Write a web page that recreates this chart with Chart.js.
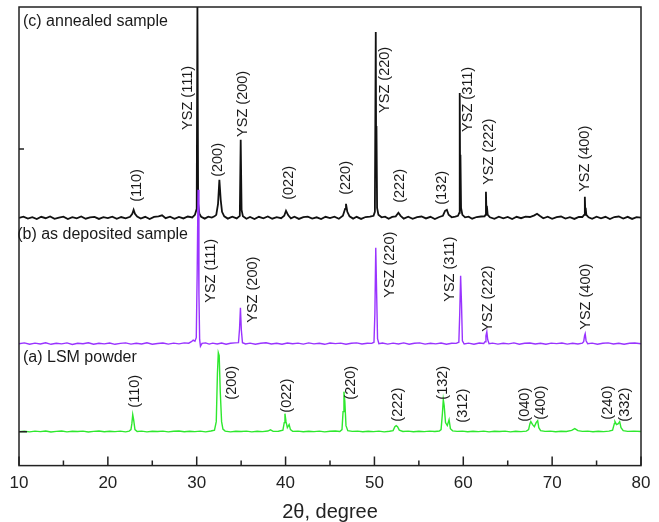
<!DOCTYPE html>
<html>
<head>
<meta charset="utf-8">
<script src="https://cdn.jsdelivr.net/npm/chart.js@4.4.1/dist/chart.umd.min.js"></script>
<style>
  html, body { margin: 0; padding: 0; background: #fff; }
  #wrap { width: 659px; height: 522px; }
</style>
</head>
<body>
<div id="wrap"><canvas id="xrd"></canvas></div>
<script>
// XRD patterns, [2theta, counts above the pattern's own baseline]
const annealed = [
  [10.0, 0], [10.5, 1.2], [11.0, -0.8], [11.5, 0.6], [12.0, -1.2], [12.5, 1.0], [13.0, -0.4], [13.5, 1.4],
  [14.0, -1.0], [14.5, 0.3], [15.0, 1.1], [15.5, -1.3], [16.0, 0.7], [16.5, -0.5], [17.0, 1.3], [17.5, -0.9],
  [18.0, 0.4], [18.5, 1.0], [19.0, -1.1], [19.5, 0.6], [20.0, -0.3], [20.5, 1.2], [21.0, -1.0], [21.5, 0.8],
  [22.0, -0.6], [22.5, 1.0], [22.75, 4], [22.9, 8], [23.05, 4], [23.3, 1.2], [23.7, -0.8], [24.2, 1.0],
  [24.7, -1.2], [25.2, 0.9], [25.7, 1.5], [26.1, 2.5], [26.5, -0.4], [27.0, 1.1], [27.5, -1.0], [28.0, 0.9],
  [28.5, -0.6], [29.0, 1.3], [29.5, 0.4], [29.8, 3], [30.0, 9], [30.08, 215], [30.16, 14], [30.3, 4],
  [30.5, 1.0], [30.9, -0.8], [31.3, 1.2], [31.7, 0.2], [32.0, 1.5], [32.2, 3], [32.4, 14], [32.55, 38],
  [32.7, 18], [32.85, 6], [33.1, 1.5], [33.5, -0.8], [34.0, 1.2], [34.5, -0.6], [34.85, 2], [34.95, 78],
  [35.05, 8], [35.2, 1.5], [35.6, -1.0], [36.0, 0.8], [36.5, -1.2], [37.0, 1.0], [37.5, -0.5], [38.0, 1.3],
  [38.5, -0.9], [39.0, 0.6], [39.5, -0.4], [39.85, 2], [40.05, 7], [40.3, 2.5], [40.6, -0.6], [41.0, 1.1],
  [41.5, -1.1], [42.0, 0.7], [42.5, 1.2], [43.0, -0.8], [43.5, 0.5], [44.0, -1.2], [44.5, 1.0], [45.0, -0.3],
  [45.5, 1.2], [46.0, -0.9], [46.45, 2], [46.7, 9], [46.8, 14], [46.95, 6], [47.2, 1.5], [47.6, -0.8],
  [48.0, 1.0], [48.5, -1.1], [49.0, 0.8], [49.5, 1.2], [49.9, 2], [50.05, 6], [50.15, 186], [50.2, 45],
  [50.23, 92], [50.3, 10], [50.45, 3], [50.8, 0.5], [51.2, 1.2], [51.6, -0.9], [52.0, 0.9], [52.4, 1.5],
  [52.7, 5], [52.95, 2], [53.3, -0.8], [53.8, 1.1], [54.3, -1.0], [54.8, 0.7], [55.3, 1.3], [55.8, -0.6],
  [56.3, 1.0], [56.8, -1.2], [57.3, 0.8], [57.7, 2], [57.95, 7], [58.15, 8], [58.35, 3], [58.7, 0.5],
  [59.1, 1.2], [59.4, 2], [59.55, 5], [59.6, 125], [59.65, 30], [59.68, 63], [59.75, 10], [59.9, 3],
  [60.2, 0.5], [60.6, 1.2], [61.0, -0.9], [61.5, 0.8], [62.0, 1.3], [62.4, 1.5], [62.5, 3], [62.55, 26],
  [62.6, 8], [62.65, 12], [62.75, 3], [63.0, 0.5], [63.5, -1.0], [64.0, 1.1], [64.5, -0.6], [65.0, 0.9],
  [65.5, -1.2], [66.0, 1.0], [66.5, -0.4], [67.0, 1.2], [67.5, 0.8], [68.0, 2.5], [68.3, 4], [68.6, 2],
  [69.0, -0.5], [69.5, 1.1], [70.0, -1.0], [70.5, 0.7], [71.0, 1.3], [71.5, -0.8], [72.0, 0.6], [72.5, -1.1],
  [73.0, 1.0], [73.4, 0.8], [73.6, 3], [73.68, 21], [73.73, 6], [73.77, 10], [73.85, 3], [74.1, 0.5],
  [74.5, -0.9], [75.0, 1.2], [75.5, -0.5], [76.0, 1.0], [76.5, -1.2], [77.0, 0.8], [77.5, 1.3], [78.0, -0.7],
  [78.5, 1.0], [79.0, -1.1], [79.5, 0.6], [80.0, 0.2]
];

const deposited = [
  [10.0, 0], [10.6, 0.8], [11.2, -0.5], [11.8, 0.6], [12.4, -0.3], [13.0, 0.9], [13.6, -0.6], [14.2, 0.4],
  [14.8, -0.2], [15.4, 0.8], [16.0, -0.7], [16.6, 0.5], [17.2, 0.0], [17.8, 0.9], [18.4, -0.5], [19.0, 0.4],
  [19.6, -0.2], [20.2, 0.7], [20.8, -0.6], [21.4, 0.3], [22.0, 0.8], [22.6, -0.4], [23.2, 0.5], [23.8, -0.3],
  [24.4, 0.9], [25.0, -0.5], [25.6, 0.2], [26.2, 0.7], [26.8, -0.4], [27.4, 0.6], [28.0, -0.2], [28.6, 0.8],
  [29.1, 0.5], [29.4, 2], [29.6, 3.5], [29.8, 2.5], [29.95, 6], [30.05, 70], [30.15, 154], [30.25, 50],
  [30.33, 4], [30.42, -2.5], [30.6, 0.3], [31.0, 0.8], [31.4, -0.4], [31.8, 0.6], [32.3, -0.3], [32.8, 0.7],
  [33.3, -0.5], [33.8, 0.4], [34.3, 0.8], [34.7, 1], [34.82, 15], [34.92, 36], [35.02, 14], [35.15, 1],
  [35.5, -0.3], [36.0, 0.6], [36.6, -0.6], [37.2, 0.4], [37.8, 0.9], [38.4, -0.3], [39.0, 0.5], [39.6, -0.5],
  [40.2, 0.7], [40.8, 0.0], [41.4, 0.6], [42.0, -0.4], [42.6, 0.8], [43.2, -0.2], [43.8, 0.5], [44.4, -0.6],
  [45.0, 0.7], [45.6, 0.1], [46.2, 0.6], [46.8, -0.5], [47.4, 0.4], [48.0, 0.8], [48.6, -0.3], [49.2, 0.5],
  [49.7, 0.3], [49.95, 1.5], [50.05, 30], [50.15, 96], [50.25, 50], [50.35, 5], [50.5, 0], [50.9, 0.7],
  [51.5, -0.4], [52.1, 0.6], [52.7, -0.3], [53.3, 0.8], [53.9, -0.5], [54.5, 0.4], [55.1, 0.8], [55.7, -0.4],
  [56.3, 0.5], [56.9, -0.2], [57.5, 0.7], [58.1, -0.5], [58.7, 0.5], [59.2, 0.3], [59.5, 1.5], [59.6, 30],
  [59.7, 68], [59.8, 40], [59.9, 3], [60.1, -0.3], [60.6, 0.6], [61.2, -0.5], [61.8, 0.7], [62.3, 0.2],
  [62.45, 2], [62.55, 8], [62.65, 12], [62.75, 4], [62.9, 0], [63.3, 0.6], [63.9, -0.4], [64.5, 0.5],
  [65.1, -0.2], [65.7, 0.8], [66.3, -0.5], [66.9, 0.4], [67.5, 0.7], [68.1, -0.3], [68.7, 0.5], [69.3, -0.5],
  [69.9, 0.6], [70.5, 0.1], [71.1, 0.7], [71.7, -0.4], [72.3, 0.5], [72.9, -0.3], [73.4, 0.6], [73.55, 2],
  [73.65, 8], [73.72, 10], [73.82, 3], [74.0, 0], [74.5, 0.6], [75.1, -0.5], [75.7, 0.4], [76.3, 0.8],
  [76.9, -0.3], [77.5, 0.5], [78.1, -0.6], [78.7, 0.4], [79.3, 0.7], [80.0, 0]
];

const powder = [
  [10.0, 0], [10.6, 0.4], [11.2, -0.2], [11.8, 0.5], [12.4, 0.0], [13.0, 0.6], [13.6, -0.3], [14.2, 0.3],
  [14.8, 0.6], [15.4, -0.2], [16.0, 0.4], [16.6, 0.1], [17.2, 0.5], [17.8, -0.3], [18.4, 0.3], [19.0, 0.6],
  [19.6, -0.1], [20.2, 0.4], [20.8, 0.0], [21.4, 0.5], [22.0, -0.2], [22.4, 0.5], [22.6, 2], [22.7, 8],
  [22.8, 17], [22.9, 12], [23.05, 2], [23.3, 0.2], [23.8, 0.5], [24.4, -0.2], [25.0, 0.4], [25.6, 0.1],
  [26.2, 0.5], [26.8, -0.2], [27.4, 0.4], [28.0, 0.6], [28.6, -0.1], [29.2, 0.4], [29.8, 0.0], [30.4, 0.5],
  [31.0, -0.2], [31.6, 0.6], [32.0, 1.5], [32.2, 10], [32.33, 58], [32.43, 79], [32.53, 76], [32.65, 40],
  [32.8, 10], [32.95, 2.5], [33.2, 0.5], [33.8, -0.2], [34.4, 0.4], [35.0, 0.1], [35.6, 0.5], [36.2, -0.2],
  [36.8, 0.4], [37.4, 0.0], [38.0, 0.6], [38.3, 1.8], [38.6, 0.3], [39.2, 0.4], [39.7, 1.5], [39.85, 9],
  [39.93, 18], [40.05, 10], [40.2, 4], [40.4, 7], [40.55, 2], [40.8, 0.3], [41.4, 0.5], [42.0, -0.1],
  [42.6, 0.4], [43.2, 0.0], [43.8, 0.5], [44.4, -0.2], [45.0, 0.4], [45.6, 0.6], [46.1, 0.2], [46.35, 2],
  [46.47, 20], [46.57, 40], [46.67, 30], [46.8, 6], [47.0, 1], [47.5, 0.3], [48.1, 0.5], [48.7, -0.1],
  [49.3, 0.4], [49.9, 0.0], [50.5, 0.5], [51.1, -0.2], [51.7, 0.4], [52.1, 1], [52.3, 5], [52.45, 6],
  [52.6, 5], [52.8, 1.5], [53.2, 0.2], [53.8, 0.5], [54.4, -0.1], [55.0, 0.4], [55.6, 0.0], [56.2, 0.5],
  [56.8, 0.2], [57.3, 0.6], [57.5, 2], [57.65, 18], [57.75, 32], [57.85, 26], [58.0, 9], [58.2, 6],
  [58.4, 12], [58.55, 3], [58.8, 0.8], [59.3, 0.3], [59.9, 0.5], [60.5, -0.1], [61.1, 0.4], [61.7, 0.0],
  [62.3, 0.5], [62.9, -0.2], [63.5, 0.4], [64.1, 0.1], [64.7, 0.5], [65.3, -0.2], [65.9, 0.4], [66.5, 0.0],
  [67.1, 0.5], [67.35, 2], [67.5, 8], [67.6, 10], [67.8, 7], [68.0, 5], [68.2, 9], [68.37, 11],
  [68.5, 4], [68.7, 1], [69.2, 0.3], [69.8, 0.5], [70.4, -0.1], [71.0, 0.4], [71.6, 0.2], [72.2, 1.2],
  [72.55, 3], [72.9, 1], [73.4, 0.3], [74.0, 0.5], [74.6, -0.1], [75.2, 0.4], [75.8, 0.0], [76.4, 0.5],
  [76.8, 1.5], [77.0, 8], [77.07, 10], [77.25, 7], [77.45, 8], [77.6, 10], [77.75, 4], [78.0, 1],
  [78.5, 0.3], [79.2, 0.5], [80.0, 0.2]
];

// vertical offset of each pattern in the stack
const offsetAnnealed = 248;
const offsetDeposited = 122;
const offsetPowder = 34;

const xTicks = [10, 20, 30, 40, 50, 60, 70, 80];
const xMinorTicks = [15, 25, 35, 45, 55, 65, 75];
const yTicks = [34, 317];

// peak labels: text, 2theta, height above the pattern baseline
const annealedPeakText = ['(110)', 'YSZ (111)', '(200)', 'YSZ (200)', '(022)', '(220)', 'YSZ (220)', '(222)', '(132)', 'YSZ (311)', 'YSZ (222)', 'YSZ (400)'];
const annealedPeakPos = [23.28, 29.02, 32.4, 35.21, 40.39, 46.8, 51.19, 52.88, 57.6, 60.53, 62.89, 73.7];
const annealedPeakLevel = [16, 88, 41, 81, 18, 23, 105, 15, 13, 86, 33, 26];

const depositedPeakText = ['YSZ (111)', 'YSZ (200)', 'YSZ (220)', 'YSZ (311)', 'YSZ (222)', 'YSZ (400)'];
const depositedPeakPos = [31.61, 36.33, 51.75, 58.5, 62.78, 73.81];
const depositedPeakLevel = [41, 21, 46, 42, 12, 14];

const powderPeakText = ['(110)', '(200)', '(022)', '(220)', '(222)', '(132)', '(312)', '(040)', '(400)', '(240)', '(332)'];
const powderPeakPos = [23.05, 33.97, 40.16, 47.36, 52.65, 57.72, 59.97, 66.94, 68.74, 76.28, 78.2];
const powderPeakLevel = [24, 32, 19, 32, 10, 32, 9, 10, 12, 12, 10];

const sampleNames = ['(c) annealed sample', '(b) as deposited sample', '(a) LSM powder'];

const FONT = '"Liberation Sans", Arial, Helvetica, sans-serif';

function shifted(pattern, offset) {
  return pattern.map(p => ({x: p[0], y: p[1] + offset}));
}

// frame, inward ticks and all the annotations
const decorations = {
  id: 'decorations',
  afterDatasetsDraw(chart) {
    const ctx = chart.ctx;
    const a = chart.chartArea;
    const xs = chart.scales.x;
    const ys = chart.scales.y;
    ctx.save();

    ctx.strokeStyle = '#222';
    ctx.lineWidth = 1.5;
    ctx.strokeRect(a.left, a.top, a.right - a.left, a.bottom - a.top);

    ctx.beginPath();
    xTicks.forEach(v => {
      const px = xs.getPixelForValue(v);
      ctx.moveTo(px, a.bottom);
      ctx.lineTo(px, a.bottom - 9);
    });
    xMinorTicks.forEach(v => {
      const px = xs.getPixelForValue(v);
      ctx.moveTo(px, a.bottom);
      ctx.lineTo(px, a.bottom - 5);
    });
    yTicks.forEach((v, i) => {
      const py = ys.getPixelForValue(v);
      ctx.moveTo(a.left, py);
      ctx.lineTo(a.left + (i === 0 ? 8 : 5), py);
    });
    ctx.stroke();

    ctx.fillStyle = '#1a1a1a';
    ctx.font = '14.5px ' + FONT;
    ctx.textAlign = 'left';
    ctx.textBaseline = 'middle';
    function peakLabels(texts, pos, level, offset) {
      texts.forEach((t, i) => {
        ctx.save();
        ctx.translate(xs.getPixelForValue(pos[i]), ys.getPixelForValue(level[i] + offset));
        ctx.rotate(-Math.PI / 2);
        ctx.fillText(t, 0, 0);
        ctx.restore();
      });
    }
    peakLabels(annealedPeakText, annealedPeakPos, annealedPeakLevel, offsetAnnealed);
    peakLabels(depositedPeakText, depositedPeakPos, depositedPeakLevel, offsetDeposited);
    peakLabels(powderPeakText, powderPeakPos, powderPeakLevel, offsetPowder);

    ctx.font = '16px ' + FONT;
    ctx.fillText(sampleNames[0], xs.getPixelForValue(10.45), ys.getPixelForValue(offsetAnnealed + 196));
    ctx.fillText(sampleNames[1], xs.getPixelForValue(9.8), ys.getPixelForValue(offsetDeposited + 109));
    ctx.fillText(sampleNames[2], xs.getPixelForValue(10.45), ys.getPixelForValue(offsetPowder + 74));
    ctx.restore();
  }
};

new Chart(document.getElementById('xrd'), {
  type: 'line',
  data: {
    datasets: [
      {
        label: 'annealed',
        data: shifted(annealed, offsetAnnealed),
        borderColor: '#111',
        borderWidth: 1.8,
        order: 2
      },
      {
        label: 'as deposited',
        data: shifted(deposited, offsetDeposited),
        borderColor: '#9933ff',
        borderWidth: 1.4,
        order: 0
      },
      {
        label: 'LSM powder',
        data: shifted(powder, offsetPowder),
        borderColor: '#2ee82e',
        borderWidth: 1.4,
        order: 1
      }
    ]
  },
  options: {
    responsive: true,
    maintainAspectRatio: false,
    animation: false,
    devicePixelRatio: 1,
    elements: {
      point: { radius: 0 },
      line: { tension: 0, fill: false }
    },
    layout: { padding: { left: 19, right: 18, top: 7, bottom: 0 } },
    plugins: {
      legend: { display: false },
      tooltip: { enabled: false }
    },
    scales: {
      x: {
        type: 'linear',
        min: 10,
        max: 80,
        grid: { display: false, drawTicks: false },
        border: { display: false },
        ticks: {
          stepSize: 10,
          padding: 8,
          color: '#222',
          font: { family: FONT, size: 17 }
        },
        title: {
          display: true,
          text: '2θ, degree',
          color: '#222',
          font: { family: FONT, size: 20, lineHeight: 1 },
          padding: { top: 0, bottom: 0 }
        }
      },
      y: {
        display: false,
        min: 0,
        max: 459
      }
    }
  },
  plugins: [decorations]
});
</script>
</body>
</html>
